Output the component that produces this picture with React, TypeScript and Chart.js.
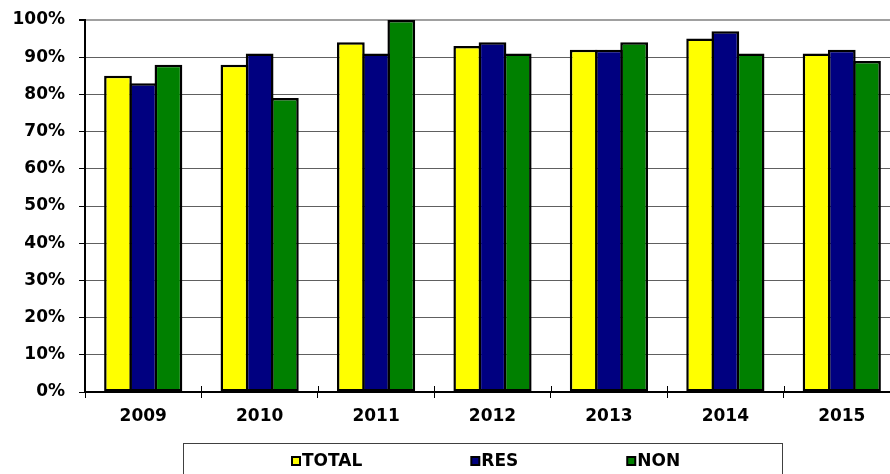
import React, { useEffect, useRef } from "react";
import { Chart, registerables } from "chart.js";

Chart.register(...registerables);

const categories = ["2009", "2010", "2011", "2012", "2013", "2014", "2015"];
const totalValues = [85, 88, 94, 93, 92, 95, 91];
const resValues = [83, 91, 91, 94, 92, 97, 92];
const nonValues = [88, 79, 100, 91, 94, 91, 89];
const seriesLabels = ["TOTAL", "RES", "NON"];
const yTicks = [0, 10, 20, 30, 40, 50, 60, 70, 80, 90, 100];

const FONT = "'DejaVu Sans', 'Liberation Sans', Arial, sans-serif";

const crossTicksPlugin = {
  id: "crossTicks",
  afterDatasetsDraw(chart: any) {
    const xs = chart.scales.x;
    const ctx = chart.ctx;
    const n = chart.data.labels.length;
    const half = (xs.getPixelForValue(1) - xs.getPixelForValue(0)) / 2;
    const b = chart.chartArea.bottom;
    ctx.save();
    ctx.strokeStyle = "#000";
    ctx.lineWidth = 1;
    for (let i = 0; i <= n; i++) {
      const x = Math.round(xs.getPixelForValue(i) - half) + 0.5;
      ctx.beginPath();
      ctx.moveTo(x, b - 6);
      ctx.lineTo(x, b);
      ctx.stroke();
    }
    ctx.restore();
  },
};

const legendPlugin = {
  id: "boxLegend",
  afterDraw(chart: any) {
    const ctx = chart.ctx;
    ctx.save();
    ctx.strokeStyle = "#404040";
    ctx.lineWidth = 1;
    ctx.strokeRect(183.5, 443.5, 599, 60);
    ctx.font = `bold 17px ${FONT}`;
    ctx.textBaseline = "middle";
    const sq = 8;
    const gap = 2;
    const spacing = 109;
    const items = chart.data.datasets.map((d: any) => ({
      text: d.label,
      color: d.backgroundColor,
      w: sq + gap + ctx.measureText(d.label).width,
    }));
    const total = items.reduce((a: number, b: any) => a + b.w, 0) + spacing * (items.length - 1);
    let x = Math.round(486 - total / 2);
    const cy = 461;
    items.forEach((it: any) => {
      ctx.fillStyle = it.color;
      ctx.fillRect(x, cy - sq / 2, sq, sq);
      ctx.strokeStyle = "#000";
      ctx.lineWidth = 2;
      ctx.strokeRect(x, cy - sq / 2, sq, sq);
      ctx.fillStyle = "#000";
      ctx.textAlign = "left";
      ctx.fillText(it.text, x + sq + gap, cy + 1);
      x += it.w + spacing;
    });
    ctx.restore();
  },
};

export default function App() {
  const ref = useRef<HTMLCanvasElement>(null);
  useEffect(() => {
    if (!ref.current) return;
    const common = {
      borderColor: "#000",
      borderWidth: 2.5,
      categoryPercentage: 0.65,
      barPercentage: 1.1,
      borderSkipped: false,
    };
    const chart = new Chart(ref.current, {
      type: "bar",
      data: {
        labels: categories,
        datasets: [
          { label: seriesLabels[0], data: totalValues, backgroundColor: "#FFFF00", ...common },
          { label: seriesLabels[1], data: resValues, backgroundColor: "#000080", ...common },
          { label: seriesLabels[2], data: nonValues, backgroundColor: "#008000", ...common },
        ],
      },
      options: {
        responsive: false,
        animation: false,
        devicePixelRatio: 1,
        layout: { padding: { left: 0, right: 10, top: 20, bottom: 0 } },
        plugins: {
          legend: { display: false },
          tooltip: { enabled: false },
        },
        scales: {
          x: {
            afterFit: (s: any) => {
              s.height = 98;
              s.paddingLeft = 0;
              s.paddingRight = 0;
            },
            grid: {
              offset: true,
              drawOnChartArea: false,
              tickLength: 6,
              tickColor: "#000",
              lineWidth: 1,
            },
            border: { color: "#000", width: 2 },
            ticks: {
              color: "#000",
              padding: 8,
              font: { family: FONT, weight: "bold", size: 17 },
            },
          },
          y: {
            min: 0,
            max: 100,
            afterFit: (s: any) => {
              s.width = 85;
              s.paddingTop = 0;
              s.paddingBottom = 0;
            },
            afterBuildTicks: (s: any) => {
              s.ticks = yTicks.map((v) => ({ value: v }));
            },
            grid: {
              color: (c: any) => (c.tick && c.tick.value === 100 ? "#a0a0a0" : "#606060"),
              lineWidth: (c: any) => (c.tick && c.tick.value === 100 ? 2 : 1),
              tickColor: "#000",
              tickLength: 6,
            },
            border: { color: "#000", width: 2 },
            ticks: {
              color: "#000",
              padding: 14,
              font: { family: FONT, weight: "bold", size: 17 },
              callback: (v: any) => v + "%",
            },
          },
        },
      },
      plugins: [crossTicksPlugin, legendPlugin],
    });
    return () => chart.destroy();
  }, []);
  return (
    <div style={{ position: "fixed", left: 0, top: 0, width: 890, height: 474, overflow: "hidden", background: "#fff" }}>
      <canvas ref={ref} width={910} height={490} style={{ display: "block" }} />
    </div>
  );
}
